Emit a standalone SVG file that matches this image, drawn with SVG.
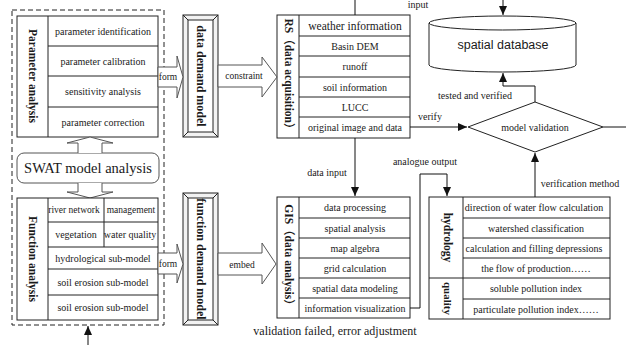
<svg xmlns="http://www.w3.org/2000/svg" width="626" height="345" viewBox="0 0 626 345">
<defs>
<marker id="ah" markerUnits="userSpaceOnUse" markerWidth="9" markerHeight="8" refX="9" refY="4" orient="auto"><path d="M0,0 L9,4 L0,8 Z" fill="#111"/></marker>
<style>
text{font-family:"Liberation Serif","Noto Sans CJK SC",serif;fill:#1a1a1a}
.c{font-size:10px;text-anchor:middle;dominant-baseline:central}
.l{font-size:10px;text-anchor:middle}
.v{font-size:11.5px;font-weight:bold;text-anchor:middle;dominant-baseline:central}
.vb{font-size:12px;font-weight:bold;text-anchor:middle;dominant-baseline:central}
.box{fill:#fff;stroke:#222;stroke-width:1}
.ln{fill:none;stroke:#222;stroke-width:1}
.blk{fill:#fff;stroke:#555;stroke-width:1}
.con{fill:none;stroke:#111;stroke-width:1}
</style>
</defs>
<rect width="626" height="345" fill="#fff"/>

<g id="outer-dashed">
<rect x="12" y="10" width="152" height="315" fill="none" stroke="#222" stroke-width="1" stroke-dasharray="5,3"/>
</g>

<g id="parameter-analysis">
<rect class="box" x="17" y="16" width="141" height="121"/>
<path class="ln" d="M48,16 V137 M48,46 H158 M48,76 H158 M48,107 H158"/>
<text class="v" transform="translate(33,76) rotate(90)">Parameter analysis</text>
<text class="c" x="103" y="31">parameter identification</text>
<text class="c" x="103" y="61">parameter calibration</text>
<text class="c" x="103" y="91.5">sensitivity analysis</text>
<text class="c" x="103" y="122">parameter correction</text>
</g>

<g id="swat">
<rect x="17" y="153" width="142" height="30" rx="7" fill="#fff" stroke="#555" stroke-width="1"/>
<text x="88" y="173" style="font-size:14.5px;text-anchor:middle">SWAT model analysis</text>
<path class="blk" d="M78,153 V143 H67 L90,137 L113,143 H102 V153"/>
<path class="blk" d="M78,183 V192 H67 L90,198 L113,192 H102 V183"/>
</g>

<g id="function-analysis">
<rect class="box" x="17" y="198" width="141" height="122"/>
<path class="ln" d="M48,198 V320 M48,222 H158 M48,247 H158 M48,269 H158 M48,295 H158 M104,198 V247"/>
<text class="v" transform="translate(33,259) rotate(90)">Function analysis</text>
<text class="c" x="74" y="210" style="font-size:9.5px">river network</text>
<text class="c" x="131" y="210" style="font-size:9.5px">management</text>
<text class="c" x="76" y="234.5">vegetation</text>
<text class="c" x="130" y="234.5">water quality</text>
<text class="c" x="103" y="258">hydrological sub-model</text>
<text class="c" x="103" y="282">soil erosion sub-model</text>
<text class="c" x="103" y="307.5">soil erosion sub-model</text>
</g>

<g id="data-demand-model">
<rect x="183" y="15" width="35" height="122" fill="#f2f2f2" stroke="#222"/>
<rect x="188" y="20" width="25" height="112" fill="#fff" stroke="#222"/>
<path class="ln" d="M183,15 L188,20 M218,15 L213,20 M183,137 L188,132 M218,137 L213,132"/>
<text class="vb" transform="translate(201,76) rotate(90)">data demand model</text>
</g>

<g id="function-demand-model">
<rect x="183" y="193" width="35" height="132" fill="#f2f2f2" stroke="#222"/>
<rect x="188" y="198" width="25" height="122" fill="#fff" stroke="#222"/>
<path class="ln" d="M183,193 L188,198 M218,193 L213,198 M183,325 L188,320 M218,325 L213,320"/>
<text class="vb" transform="translate(201,259) rotate(90)">function demand model</text>
</g>

<g id="rs">
<rect class="box" x="277" y="15" width="133" height="123"/>
<path class="ln" d="M299,15 V138 M299,36 H410 M299,56 H410 M299,77 H410 M299,97 H410 M299,117 H410"/>
<text class="v" transform="translate(289,76.5) rotate(90)">RS（data acquisition）</text>
<text class="c" x="355" y="25.5" style="font-size:11.5px">weather information</text>
<text class="c" x="355" y="46">Basin DEM</text>
<text class="c" x="355" y="66.5">runoff</text>
<text class="c" x="355" y="87">soil information</text>
<text class="c" x="355" y="107">LUCC</text>
<text class="c" x="355" y="127.5">original image and data</text>
</g>

<g id="gis">
<rect class="box" x="277" y="197" width="133" height="121"/>
<path class="ln" d="M299,197 V318 M299,218 H410 M299,238 H410 M299,258 H410 M299,278 H410 M299,298 H410"/>
<text class="v" transform="translate(289,257.5) rotate(90)">GIS（data analysis）</text>
<text class="c" x="355" y="207.5">data processing</text>
<text class="c" x="355" y="228">spatial analysis</text>
<text class="c" x="355" y="248">map algebra</text>
<text class="c" x="355" y="268">grid calculation</text>
<text class="c" x="355" y="288">spatial data modeling</text>
<text class="c" x="355" y="308">information visualization</text>
</g>

<g id="spatial-database">
<path d="M429,23 V65 A73.5,7 0 0 0 576,65 V23" fill="#fff" stroke="#222"/>
<ellipse cx="502.5" cy="23" rx="73.5" ry="7" fill="#fff" stroke="#222"/>
<text x="503" y="49" style="font-family:'Liberation Sans',sans-serif;font-size:12.5px;text-anchor:middle">spatial database</text>
</g>

<g id="model-validation">
<polygon points="468,127 535,102 603,127 535,152" fill="#fff" stroke="#222"/>
<text class="c" x="535" y="127">model validation</text>
</g>

<g id="hydrology-quality">
<rect class="box" x="429" y="197" width="181" height="122"/>
<path class="ln" d="M463,197 V319 M463,218 H610 M463,238 H610 M463,258 H610 M429,278 H610 M463,299 H610"/>
<text class="v" transform="translate(448,237.5) rotate(90)">hydrology</text>
<text class="v" transform="translate(448,298.5) rotate(90)" style="font-size:11px">quality</text>
<text class="c" x="534" y="207.5">direction of water flow calculation</text>
<text class="c" x="536" y="228">watershed classification</text>
<text class="c" x="534" y="248">calculation and filling depressions</text>
<text class="c" x="536" y="268">the flow of production……</text>
<text class="c" x="536" y="288.5">soluble pollution index</text>
<text class="c" x="536" y="309">particulate pollution index……</text>
</g>

<g id="connectors">
<path class="blk" d="M158,67 H177 V56 L183,77 L177,98 V87 H158 Z"/>
<path class="blk" d="M218,65 H262 V57 L277,77 L262,97 V87 H218 Z"/>
<path class="blk" d="M158,253 H177 V244 L183,264 L177,283 V274 H158 Z"/>
<path class="blk" d="M218,253 H262 V243 L276,264 L262,284 V275 H218 Z"/>
<path class="con" d="M355,0 V15"/>
<path class="con" d="M503,0 V15" marker-end="url(#ah)"/>
<path class="con" d="M355,138 V196" marker-end="url(#ah)"/>
<path class="con" d="M410,127 H467" marker-end="url(#ah)"/>
<path class="con" d="M603,127 H626"/>
<path class="con" d="M535,102 V86 H503 V73" marker-end="url(#ah)"/>
<path class="con" d="M535,197 V153" marker-end="url(#ah)"/>
<path class="con" d="M410,308 H420 V174 H447 V196" marker-end="url(#ah)"/>
<path class="con" d="M88,345 V326" marker-end="url(#ah)"/>
</g>

<g id="labels">
<text class="c" x="168" y="77" style="font-size:9.5px">form</text>
<text class="c" x="244" y="76" style="font-size:9.5px">constraint</text>
<text class="c" x="168" y="264" style="font-size:9.5px">form</text>
<text class="c" x="242" y="265" style="font-size:9.5px">embed</text>
<text class="l" x="418" y="8">input</text>
<text class="l" x="327" y="176">data input</text>
<text class="l" x="430" y="120">verify</text>
<text class="l" x="475" y="99">tested and verified</text>
<text class="l" x="580" y="187">verification method</text>
<text class="l" x="425" y="165">analogue output</text>
<text x="335" y="335" style="font-size:12px;text-anchor:middle">validation failed, error adjustment</text>
</g>
</svg>
